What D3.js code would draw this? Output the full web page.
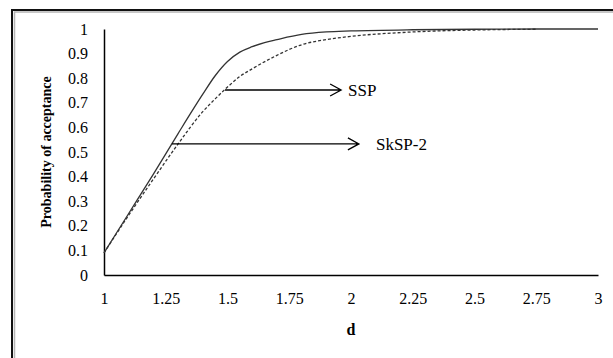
<!DOCTYPE html>
<html>
<head>
<meta charset="utf-8">
<script src="https://cdn.jsdelivr.net/npm/d3@7"></script>
<style>
  body { margin: 0; background: #fff; }
  svg text { font-family: "Liberation Serif", "Times New Roman", serif; fill: #000; }
</style>
</head>
<body>
<div class="chart"></div>
<script>
let dValues = [1, 1.1, 1.2, 1.3, 1.4, 1.45, 1.5, 1.55, 1.6, 1.65, 1.7, 1.8, 1.9, 2, 2.25, 2.5, 2.75, 3]
let sspValues = [0.09, 0.25, 0.41, 0.575, 0.735, 0.81, 0.868, 0.906, 0.928, 0.945, 0.957, 0.978, 0.988, 0.992, 0.997, 0.999, 1.0, 1.0]
let dValuesSk = [1, 1.1, 1.2, 1.3, 1.4, 1.45, 1.5, 1.55, 1.6, 1.7, 1.8, 1.9, 2, 2.25, 2.5, 2.75]
let skspValues = [0.09, 0.243, 0.39, 0.533, 0.664, 0.716, 0.764, 0.807, 0.838, 0.893, 0.936, 0.957, 0.97, 0.988, 0.996, 0.999]

let xTicks = [1, 1.25, 1.5, 1.75, 2, 2.25, 2.5, 2.75, 3]
let yTicks = [0, 0.1, 0.2, 0.3, 0.4, 0.5, 0.6, 0.7, 0.8, 0.9, 1]

// annotation arrows: start point on curve, end d, label d
let arrowLabels = ["SSP", "SkSP-2"]
let arrowStart = [[1.49, 0.752], [1.275, 0.533]]
let arrowEnd = [1.96, 2.032]
let labelAt = [1.988, 2.101]

let svg = d3.select('.chart')
    .append('svg')
    .attr('width', 613)
    .attr('height', 358)

// frame
svg.append('rect')
    .attr('x', 12).attr('y', 10)
    .attr('width', 700).attr('height', 500)
    .attr('fill', 'none')
    .attr('stroke', '#111')
    .attr('stroke-width', 2)
svg.append('rect')
    .attr('x', 14.5).attr('y', 12)
    .attr('width', 700).attr('height', 500)
    .attr('fill', 'none')
    .attr('stroke', '#b5b5b5')
    .attr('stroke-width', 1.5)

//scales
let x = d3.scaleLinear().domain([1, 3]).range([104, 598])
let y = d3.scaleLinear().domain([0, 1]).range([275, 29])

//Axis
let xAxis = d3.axisBottom(x).tickValues(xTicks).tickSize(0).tickPadding(18).tickFormat(d3.format('~g'))
svg.append('g')
    .attr('transform', 'translate(0,' + y(0) + ')')
    .call(xAxis)
    .call(g => g.select('.domain').attr('stroke', '#000').attr('stroke-width', 1.5))
    .call(g => g.selectAll('text').style('font-size', '16px').style('font-family', '"Liberation Serif", serif'))

let yAxis = d3.axisLeft(y).tickValues(yTicks).tickSize(0).tickPadding(16).tickFormat(d3.format('~g'))
svg.append('g')
    .attr('transform', 'translate(' + x(1) + ',0)')
    .call(yAxis)
    .call(g => g.select('.domain').attr('stroke', '#000').attr('stroke-width', 1.5))
    .call(g => g.selectAll('text').style('font-size', '16px').style('font-family', '"Liberation Serif", serif'))

svg.append('text')
    .attr('x', (x(1) + x(3)) / 2)
    .attr('y', 335)
    .attr('text-anchor', 'middle')
    .style('font-size', '16px')
    .style('font-weight', 'bold')
    .text('d')

svg.append('text')
    .attr('transform', 'translate(51,' + (y(0) + y(1)) / 2 + ') rotate(-90)')
    .attr('text-anchor', 'middle')
    .style('font-size', '14px')
    .style('font-weight', 'bold')
    .text('Probability of acceptance')

let line = d3.line()
    .x(item => x(item[0]))
    .y(item => y(item[1]))
    .curve(d3.curveMonotoneX)

svg.append('path')
    .attr('fill', 'none')
    .attr('stroke', '#333')
    .attr('stroke-width', 1.3)
    .attr('d', line(d3.zip(dValues, sspValues)))

svg.append('path')
    .attr('fill', 'none')
    .attr('stroke', '#333')
    .attr('stroke-width', 1.3)
    .attr('stroke-dasharray', '3,2')
    .attr('d', line(d3.zip(dValuesSk, skspValues)))

// arrows
arrowLabels.forEach((label, i) => {
    let x0 = x(arrowStart[i][0]), yy = y(arrowStart[i][1]), x1 = x(arrowEnd[i])
    svg.append('path')
        .attr('fill', 'none')
        .attr('stroke', '#000')
        .attr('stroke-width', 1.3)
        .attr('d', 'M' + x0 + ',' + yy + 'H' + x1 + 'M' + (x1 - 11) + ',' + (yy - 6) + 'L' + x1 + ',' + yy + 'L' + (x1 - 11) + ',' + (yy + 6))
    svg.append('text')
        .attr('x', x(labelAt[i]))
        .attr('y', yy + 6)
        .style('font-size', '17px')
        .text(label)
})
</script>
</body>
</html>
